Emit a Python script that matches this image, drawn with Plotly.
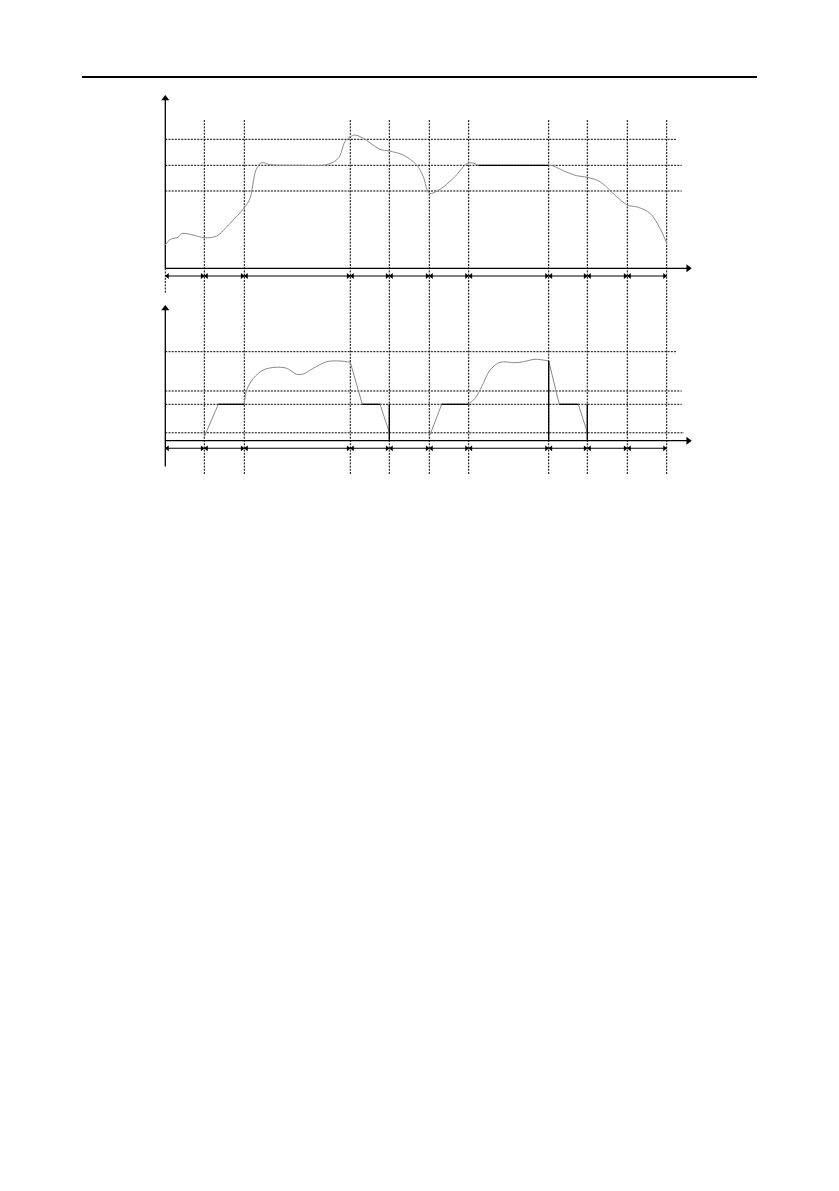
import plotly.graph_objects as go

# ---------------- data (page-pixel units of the diagram) ----------------
# time boundaries (first one is the vertical axis)
BOUNDS_X = [165.3, 204.3, 244.3, 350.3, 389.3, 429.3, 468.7, 548.7, 587.3, 627.3, 666.7]

# top panel
TOP_AXIS_Y = 268.3
TOP_ARROW_ROW_Y = 276.0
TOP_LEVELS_Y = [139.3, 165.3, 191.0]
TOP_LEVELS_END_X = [676.0, 681.7, 681.7]
TOP_CURVE1_X = [165.3, 170, 178, 181.7, 193, 204.3, 216.7, 230, 244.3, 250, 256, 261.7, 270, 300,
                326.7, 338.3, 345, 350.3, 355, 363.3, 380, 389.3, 403.3, 416.7, 423.3, 429.3,
                440, 453.3, 468.7, 478.3]
TOP_CURVE1_Y = [245, 239.5, 237.3, 233.5, 235, 237.7, 236, 223.3, 207.7, 198.3, 170, 162.7, 164.7, 165.3,
                164.7, 158.3, 141.7, 136.7, 135, 138.3, 149.3, 151, 155, 165, 176.7, 193.3,
                189.3, 178.3, 162.7, 165]
TOP_FLAT_X = [478.3, 548.7]
TOP_FLAT_Y = [165.3, 165.3]
TOP_CURVE2_X = [548.7, 553.3, 563.3, 576.7, 587.3, 600, 616.7, 627.3, 638.3, 650, 660, 666.7]
TOP_CURVE2_Y = [165.3, 166, 170.7, 175.7, 177.3, 181.7, 196.7, 205, 207.3, 213.3, 228.3, 243.3]

# bottom panel
BOT_AXIS_Y = 440.7
BOT_ARROW_ROW_Y = 448.3
BOT_LEVELS_Y = [351.7, 391.0, 404.3, 432.8]
BOT_LEVELS_END_X = [676.0, 681.7, 681.7, 684.0]
# gray pieces (ramps and curves)
BOT_GRAY_PIECES = [
    ([204.3, 218.3], [436.7, 404.3]),
    ([244.3, 246.7, 253.3, 263.3, 275, 286.7, 296.7, 303.3, 313.3, 326.7, 340, 350.3],
     [404.3, 390, 378.3, 370, 367.3, 368.3, 374.3, 374, 368.3, 361.7, 361, 362.3]),
    ([350.3, 362.3], [362.3, 404.3]),
    ([380.0, 389.3], [404.3, 432.3]),
    ([429.3, 441.7], [436.7, 404.3]),
    ([468.7, 475, 481.7, 490, 500, 515, 523.3, 535, 548.7],
     [404.3, 398.3, 386.7, 370, 362.3, 362.7, 361.7, 359.3, 361]),
    ([548.7, 559.3], [361.0, 404.3]),
    ([578.3, 587.3], [404.3, 432.3]),
]
# black pieces (holds and vertical drops)
BOT_BLACK_PIECES = [
    ([218.3, 244.3], [404.3, 404.3]),
    ([362.3, 380.0], [404.3, 404.3]),
    ([389.3, 389.3], [404.3, 440.7]),
    ([441.7, 468.7], [404.3, 404.3]),
    ([548.7, 548.7], [361.0, 440.7]),
    ([559.3, 578.3], [404.3, 404.3]),
    ([587.3, 587.3], [404.3, 440.7]),
]

# frame elements
HEADER_X = [82, 757]
HEADER_Y = 77
AXIS_X_END = 691.7
TOP_YAXIS_TOP = 95
TOP_YAXIS_EXT = 293
BOT_YAXIS_TOP = 305
BOT_YAXIS_BOTTOM = 466.5
VGRID_TOP = 120
VGRID_BOTTOM = 474

DASH = "2px,1.2px"
GRAY = "#8a8a8a"

# page offset (browser body margin) and figure size
PAGE_MARGIN = 8
FIG_W = 839 - 2 * PAGE_MARGIN
FIG_H = 1191 - 2 * PAGE_MARGIN

fig = go.Figure()


def line(xs, ys, color="black", width=1.0, dash=None, shape="linear"):
    fig.add_trace(go.Scatter(x=xs, y=ys, mode="lines", hoverinfo="skip", showlegend=False,
                             line=dict(color=color, width=width, dash=dash, shape=shape,
                                       smoothing=0.9 if shape == "spline" else None)))


def markers(xs, ys, symbol, size):
    fig.add_trace(go.Scatter(x=xs, y=ys, mode="markers", hoverinfo="skip", showlegend=False,
                             marker=dict(symbol=symbol, size=size, color="black",
                                         line=dict(width=0))))


# header rule
line(HEADER_X, [HEADER_Y, HEADER_Y], width=2.2)

# vertical dashed boundaries
for bx in BOUNDS_X[1:]:
    line([bx, bx], [VGRID_TOP, VGRID_BOTTOM], dash=DASH)

# horizontal dashed levels
for ly, ex in zip(TOP_LEVELS_Y, TOP_LEVELS_END_X):
    line([BOUNDS_X[0], ex], [ly, ly], dash=DASH)
for ly, ex in zip(BOT_LEVELS_Y, BOT_LEVELS_END_X):
    line([BOUNDS_X[0], ex], [ly, ly], dash=DASH)

# axes
x0 = BOUNDS_X[0]
line([x0, x0], [TOP_YAXIS_TOP + 4, TOP_AXIS_Y], width=1.3)
line([x0, x0], [TOP_AXIS_Y, TOP_YAXIS_EXT], dash=DASH)
line([x0, AXIS_X_END - 4], [TOP_AXIS_Y, TOP_AXIS_Y], width=1.3)
line([x0, x0], [BOT_YAXIS_TOP + 4, BOT_YAXIS_BOTTOM], width=1.3)
line([x0, AXIS_X_END - 4], [BOT_AXIS_Y, BOT_AXIS_Y], width=1.3)
markers([x0, x0], [TOP_YAXIS_TOP + 3.5, BOT_YAXIS_TOP + 3.5], "triangle-up", 7)
markers([AXIS_X_END - 3.5, AXIS_X_END - 3.5], [TOP_AXIS_Y, BOT_AXIS_Y], "triangle-right", 7)

# interval double arrows
for ry in (TOP_ARROW_ROW_Y, BOT_ARROW_ROW_Y):
    for a, b in zip(BOUNDS_X[:-1], BOUNDS_X[1:]):
        line([a, b], [ry, ry], width=1.1)
        markers([a + 2.2], [ry], "triangle-left", 5)
        markers([b - 2.2], [ry], "triangle-right", 5)

# top curves
line(TOP_CURVE1_X, TOP_CURVE1_Y, color=GRAY, width=1.0, shape="spline")
line(TOP_FLAT_X, TOP_FLAT_Y, color="black", width=1.2)
line(TOP_CURVE2_X, TOP_CURVE2_Y, color=GRAY, width=1.0, shape="spline")

# bottom curves
for xs, ys in BOT_GRAY_PIECES:
    line(xs, ys, color=GRAY, width=1.0, shape="spline" if len(xs) > 2 else "linear")
for xs, ys in BOT_BLACK_PIECES:
    line(xs, ys, color="black", width=1.3)

fig.update_layout(
    width=FIG_W, height=FIG_H,
    margin=dict(l=0, r=0, t=0, b=0),
    paper_bgcolor="white", plot_bgcolor="white",
    xaxis=dict(range=[PAGE_MARGIN, PAGE_MARGIN + FIG_W], visible=False, fixedrange=True),
    yaxis=dict(range=[PAGE_MARGIN + FIG_H, PAGE_MARGIN], visible=False, fixedrange=True),
    showlegend=False,
)

fig.write_html("out.html")
